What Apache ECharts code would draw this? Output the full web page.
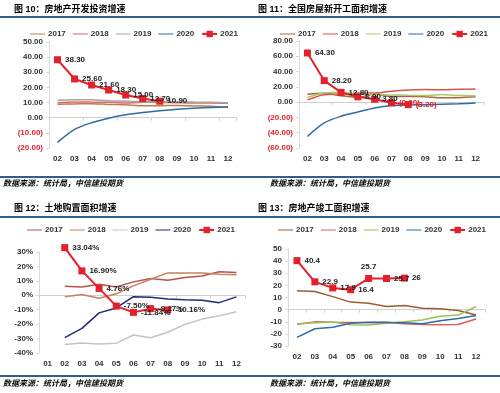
<!DOCTYPE html>
<html><head><meta charset="utf-8">
<script src="https://cdn.jsdelivr.net/npm/echarts@6/dist/echarts.min.js"></script>
<style>html,body{margin:0;padding:0;background:#fff}#c{width:500px;height:393px}</style>
</head><body><div id="c"></div>
<script>
// ---- categories ----
const cats11 = ['02','03','04','05','06','07','08','09','10','11','12'];
const cats12 = ['01','02','03','04','05','06','07','08','09','10','11','12'];
const years = ['2017','2018','2019','2020','2021'];

// ---- 图10 房地产开发投资增速 ----
const inv2017 = [8.9, 9.1, 9.3, 8.8, 8.5, 7.9, 7.9, 8.1, 7.8, 7.5, 7.0];
const inv2018 = [9.9, 10.4, 10.3, 10.2, 9.7, 10.2, 10.1, 9.9, 9.7, 9.7, 9.5];
const inv2019 = [11.6, 11.8, 11.9, 11.2, 10.9, 10.6, 10.5, 10.5, 10.3, 10.2, 9.9];
const inv2020 = [-16.3, -7.7, -3.3, -0.3, 1.9, 3.4, 4.6, 5.6, 6.3, 6.8, 7.0];
const inv2021 = [38.3, 25.6, 21.6, 18.3, 15.0, 12.7, 10.9];

// ---- 图11 全国房屋新开工面积增速 ----
const ns2017 = [10.4, 11.6, 8.5, 6.4, 10.6, 7.4, 7.6, 7.1, 5.6, 5.9, 7.0];
const ns2018 = [2.9, 9.7, 10.5, 11.8, 11.8, 14.4, 15.9, 16.4, 16.3, 16.8, 17.2];
const ns2019 = [6.0, 11.9, 13.1, 10.5, 10.1, 9.5, 8.9, 8.6, 10.0, 8.6, 8.5];
const ns2020 = [-44.9, -27.2, -18.4, -12.8, -7.6, -4.5, -3.6, -3.4, -2.6, -2.0, -1.2];
const ns2021 = [64.3, 28.2, 12.8, 6.9, 3.8, -0.9, -3.2];

// ---- 图12 土地购置面积增速 ----
const land2017 = [null, 6.2, 5.8, 7.6, 5.8, 9.3, 11.6, 10.4, 12.4, 13.4, 16.3, 15.8];
const land2018 = [null, -1.0, 0.5, -2.0, 1.0, 6.5, 11.1, 15.5, 15.5, 15.4, 14.5, 14.2];
const land2019 = [null, -34.1, -33.1, -33.8, -33.2, -27.5, -29.4, -25.6, -20.2, -16.5, -14.2, -11.4];
const land2020 = [null, -29.3, -22.9, -12.2, -8.8, -1.0, -1.3, -2.5, -3.1, -3.4, -5.1, -1.1];
const land2021 = [null, 33.04, 16.90, 4.76, -7.50, -11.84, -9.27, -10.16];

// ---- 图13 房地产竣工面积增速 ----
const comp2017 = [15.6, 15.0, 10.7, 6.2, 5.2, 2.6, 3.4, 1.1, 0.7, -0.8, -4.4];
const comp2018 = [-12.1, -10.1, -10.4, -10.6, -10.6, -10.5, -11.6, -12.2, -12.4, -12.3, -7.8];
const comp2019 = [-11.9, -10.8, -10.3, -12.4, -12.7, -11.3, -10.0, -8.6, -5.5, -4.5, 2.6];
const comp2020 = [-22.9, -15.8, -14.5, -11.3, -10.5, -10.6, -10.8, -11.6, -9.2, -7.3, -4.9];
const comp2021 = [40.4, 22.9, 17.9, 16.4, 25.7, 25.7, 26];

const titles = ['图 10：房地产开发投资增速','图 11：全国房屋新开工面积增速','图 12：土地购置面积增速','图 13：房地产竣工面积增速'];
const source = '数据来源：统计局，中信建投期货';

const RED = '#E3202B';
const FONT = "'Liberation Sans', 'Noto Sans CJK SC', sans-serif";
const paren = v => v < 0 ? '(' + Math.abs(v).toFixed(2) + ')' : v.toFixed(2);

const panels = [
  { cats: cats11, data: [inv2017, inv2018, inv2019, inv2020, inv2021],
    colors: ['#C07A4A','#E06666','#A6A6A6','#2E6DA4',RED], smooth: true,
    grid: {left: 49, top: 42, width: 187.5, height: 106}, y: [-20, 50, 10],
    axisFmt: paren, axisColor: v => (+v < 0 ? RED : '#333'),
    labelFmt: p => p.value.toFixed(2), topLabels: [],
    legend: {left: 30, top: 30}, title: {left: 14, top: 5}, src: {left: 3, top: 180} },
  { cats: cats11, data: [ns2017, ns2018, ns2019, ns2020, ns2021],
    colors: ['#A5683E','#D9534F','#A9C96A','#2E6DA4',RED], smooth: true,
    grid: {left: 299, top: 41, width: 185, height: 107}, y: [-60, 80, 20],
    axisFmt: paren, axisColor: v => (+v < 0 ? RED : '#333'),
    labelFmt: p => p.value < 0 ? '{n|' + paren(p.value) + '}' : p.value.toFixed(2), topLabels: [],
    legend: {left: 280, top: 30}, title: {left: 258, top: 5}, src: {left: 270, top: 180} },
  { cats: cats12, data: [land2017, land2018, land2019, land2020, land2021],
    colors: ['#B85450','#C8825A','#C4C4C4','#1F2A7A',RED], smooth: false,
    grid: {left: 39, top: 252, width: 206, height: 101}, y: [-40, 30, 10],
    axisFmt: v => v + '%', axisColor: () => '#333',
    labelFmt: p => p.value.toFixed(2) + '%', topLabels: [],
    legend: {left: 27, top: 226}, title: {left: 14, top: 204}, src: {left: 3, top: 380} },
  { cats: cats11, data: [comp2017, comp2018, comp2019, comp2020, comp2021],
    colors: ['#9C5B33','#E05A5A','#9BC25A','#2E6DA4',RED], smooth: false,
    grid: {left: 288, top: 249, width: 197, height: 97}, y: [-30, 50, 10],
    axisFmt: v => String(v), axisColor: () => '#333',
    labelFmt: p => String(p.value), topLabels: [4],
    legend: {left: 278, top: 226}, title: {left: 258, top: 204}, src: {left: 270, top: 380} }
];

const option = {
  animation: false,
  textStyle: {fontFamily: FONT},
  title: [], legend: [], grid: [], xAxis: [], yAxis: [], series: [],
  graphic: [17, 177, 217, 376].map(y => ({
    type: 'line', shape: {x1: 0, y1: y, x2: 500, y2: y},
    style: {stroke: '#2F5F8F', lineWidth: 2}, silent: true
  }))
};

// thin horizontal bar icon (bounding box padded to full item height)
const LINE_ICON = 'path://M0,0L0.01,0L0.01,0.01ZM0,3.3L17,3.3L17,4.7L0,4.7ZM17,8L16.99,8L16.99,7.99Z';

panels.forEach((p, i) => {
  option.title.push({text: titles[i], left: p.title.left, top: p.title.top, padding: 0,
    textStyle: {fontSize: 9, fontWeight: 'bold', color: '#000', fontFamily: FONT}});
  option.title.push({text: source, left: p.src.left, top: p.src.top, padding: 0,
    textStyle: {fontSize: 8, fontWeight: 'bold', fontStyle: 'italic', color: '#000', fontFamily: FONT}});
  option.grid.push(Object.assign({containLabel: false}, p.grid));
  option.xAxis.push({type: 'category', gridIndex: i, data: p.cats, boundaryGap: true, position: 'bottom',
    axisLine: {show: false, onZero: false}, axisTick: {show: false},
    axisLabel: {interval: 0, fontSize: 8, fontWeight: 'bold', color: '#333', margin: 7}});
  option.xAxis.push({type: 'category', gridIndex: i, data: p.cats, boundaryGap: true, position: 'top',
    axisLine: {show: true, onZero: true, lineStyle: {color: '#D0D0D0', width: 1}},
    axisTick: {show: true, inside: true, length: 3, lineStyle: {color: '#D0D0D0'}},
    axisLabel: {show: false}});
  option.yAxis.push({type: 'value', gridIndex: i, min: p.y[0], max: p.y[1], interval: p.y[2],
    axisLine: {show: true, lineStyle: {color: '#D9D9D9'}},
    axisTick: {show: true, length: 3, lineStyle: {color: '#D9D9D9'}},
    splitLine: {show: false},
    axisLabel: {fontSize: 8, fontWeight: 'bold', margin: 6, formatter: p.axisFmt, color: p.axisColor}});
  const names = years.map(y => y + '#' + i);
  option.legend.push({
    data: names.map((n, k) => (k === 4 ? {name: n} : {name: n, icon: LINE_ICON})),
    left: p.legend.left, top: p.legend.top, width: 260, padding: 0,
    itemWidth: 15, itemHeight: 8, itemGap: 7,
    formatter: n => n.slice(0, 4),
    textStyle: {fontSize: 8, fontWeight: 'bold', color: '#333', padding: [0, 0, 0, -2]}});
  years.forEach((y, k) => {
    const is21 = k === 4;
    const data = is21 ? p.data[k].map((v, j) => (p.topLabels.indexOf(j) >= 0 ? {value: v, label: {position: 'top'}} : v)) : p.data[k];
    option.series.push({
      name: names[k], type: 'line', xAxisIndex: 2 * i, yAxisIndex: i,
      data: data, color: p.colors[k], clip: false,
      smooth: is21 ? false : (p.smooth ? 0.3 : false),
      symbol: is21 ? 'rect' : 'none', symbolSize: 7, showSymbol: is21,
      lineStyle: {width: is21 ? 2 : 1.5, color: p.colors[k]},
      itemStyle: {color: p.colors[k]},
      z: is21 ? 10 : 2,
      label: is21 ? {show: true, position: 'right', distance: 4, fontSize: 8, fontWeight: 'bold',
        color: '#222', formatter: p.labelFmt, rich: {n: {color: RED, fontSize: 8, fontWeight: 'bold'}}} : {show: false}
    });
  });
});

const chart = echarts.init(document.getElementById('c'), null, {renderer: 'canvas'});
chart.setOption(option);
</script></body></html>
